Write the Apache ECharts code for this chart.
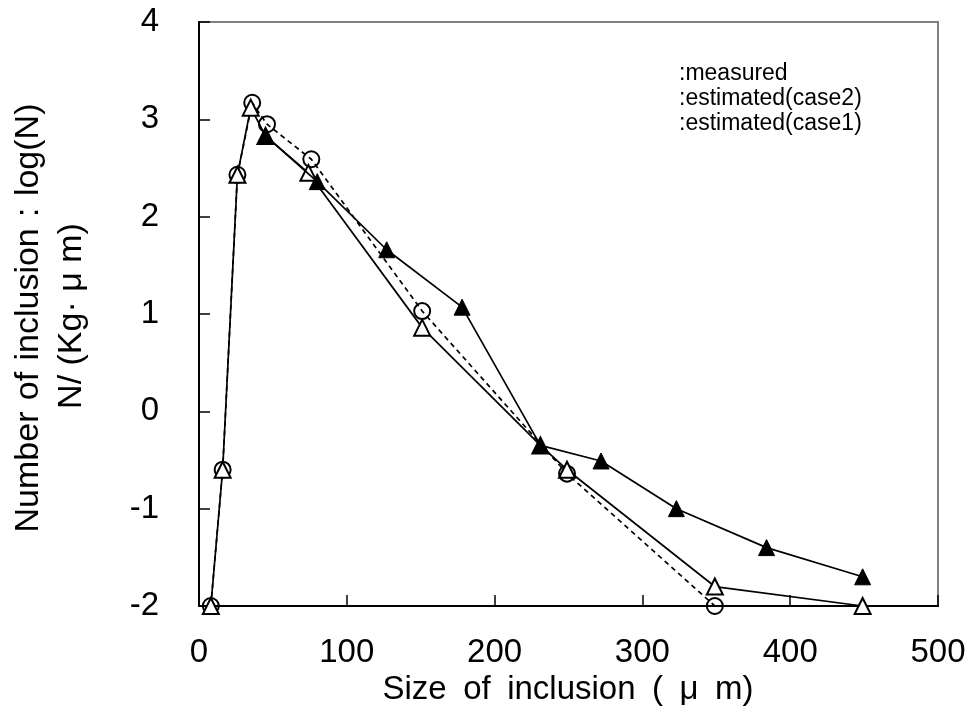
<!DOCTYPE html>
<html><head><meta charset="utf-8">
<script src="https://cdn.jsdelivr.net/npm/echarts@6/dist/echarts.min.js"></script>
<style>html,body{margin:0;padding:0;background:#fff}#c{width:971px;height:720px}</style>
</head><body><div id="c"></div>
<script>
const measuredX = [45, 80, 127, 178, 231, 272, 323, 384, 449];
const measuredY = [2.83, 2.36, 1.66, 1.07, -0.35, -0.51, -1.0, -1.4, -1.7];
const case2X = [8, 16, 26, 36, 46, 76, 151, 249, 349];
const case2Y = [-2, -0.6, 2.43, 3.17, 2.95, 2.59, 1.03, -0.64, -2];
const case1X = [8, 16, 26, 35, 45, 74, 151, 231, 249, 349, 449];
const case1Y = [-2, -0.6, 2.43, 3.12, 2.83, 2.45, 0.86, -0.35, -0.6, -1.8, -2];
const xTicks = [0, 100, 200, 300, 400, 500];
const yTicks = [-2, -1, 0, 1, 2, 3, 4];
const legendLabels = [':measured', ':estimated(case2)', ':estimated(case1)'];
const xTitle = 'Size\u2002of\u2002inclusion\u2002(\u2002μ\u2002m)';
const yTitle1 = 'Number\u2004of\u2004inclusion\u2004:\u2004log(N)';
const yTitle2 = 'N/ (Kg· μ m)';

const zip = (xs, ys) => xs.map((x, i) => [x, ys[i]]);
const FONT = 'Liberation Sans';
const chart = echarts.init(document.getElementById('c'));
chart.setOption({
  animation: false,
  backgroundColor: '#fff',
  grid: { left: 199, top: 22, right: 33, bottom: 114, show: true, borderColor: '#808080', borderWidth: 2, backgroundColor: 'transparent' },
  xAxis: {
    type: 'value', min: xTicks[0], max: xTicks[xTicks.length - 1], interval: 100,
    axisLine: { show: true, onZero: false, lineStyle: { color: '#000', width: 2 } },
    axisTick: { show: true, inside: true, length: 11, lineStyle: { color: '#000', width: 1.5 } },
    axisLabel: { fontFamily: FONT, fontSize: 33, color: '#000', margin: 30 },
    splitLine: { show: false }
  },
  yAxis: {
    type: 'value', min: yTicks[0], max: yTicks[yTicks.length - 1], interval: 1,
    axisLine: { show: true, onZero: false, lineStyle: { color: '#000', width: 2 } },
    axisTick: { show: true, inside: true, length: 11, lineStyle: { color: '#000', width: 1.5 } },
    axisLabel: { fontFamily: FONT, fontSize: 33, color: '#000', margin: 40 },
    splitLine: { show: false }
  },
  graphic: [
    { type: 'text', x: 568, y: 690, style: { text: xTitle, fontFamily: FONT, fontSize: 33, fill: '#000', align: 'center', verticalAlign: 'middle' } },
    { type: 'text', x: 29, y: 318, rotation: Math.PI / 2, style: { text: yTitle1, fontFamily: FONT, fontSize: 34, fill: '#000', align: 'center', verticalAlign: 'middle' } },
    { type: 'text', x: 72, y: 316, rotation: Math.PI / 2, style: { text: yTitle2, fontFamily: FONT, fontSize: 34, fill: '#000', align: 'center', verticalAlign: 'middle' } }
  ].concat(legendLabels.map((t, i) => ({
    type: 'text', x: 679, y: 74 + i * 25,
    style: { text: t, fontFamily: FONT, fontSize: 23, fill: '#000', verticalAlign: 'middle' }
  }))),
  series: [
    {
      name: 'estimated(case2)', type: 'line', data: zip(case2X, case2Y),
      symbol: 'circle', symbolSize: 16, showAllSymbol: true,
      lineStyle: { color: '#000', width: 1.7, type: [5, 4] },
      itemStyle: { color: 'rgba(255,255,255,0)', borderColor: '#000', borderWidth: 2 },
      z: 3
    },
    {
      name: 'estimated(case1)', type: 'line', data: zip(case1X, case1Y),
      symbol: 'triangle', symbolSize: 16, showAllSymbol: true,
      lineStyle: { color: '#000', width: 1.7 },
      itemStyle: { color: '#fff', borderColor: '#000', borderWidth: 2 },
      z: 4
    },
    {
      name: 'measured', type: 'line', data: zip(measuredX, measuredY),
      symbol: 'triangle', symbolSize: 16, showAllSymbol: true,
      lineStyle: { color: '#000', width: 1.7 },
      itemStyle: { color: '#000', borderColor: '#000', borderWidth: 1 },
      z: 5
    }
  ]
});
</script></body></html>
